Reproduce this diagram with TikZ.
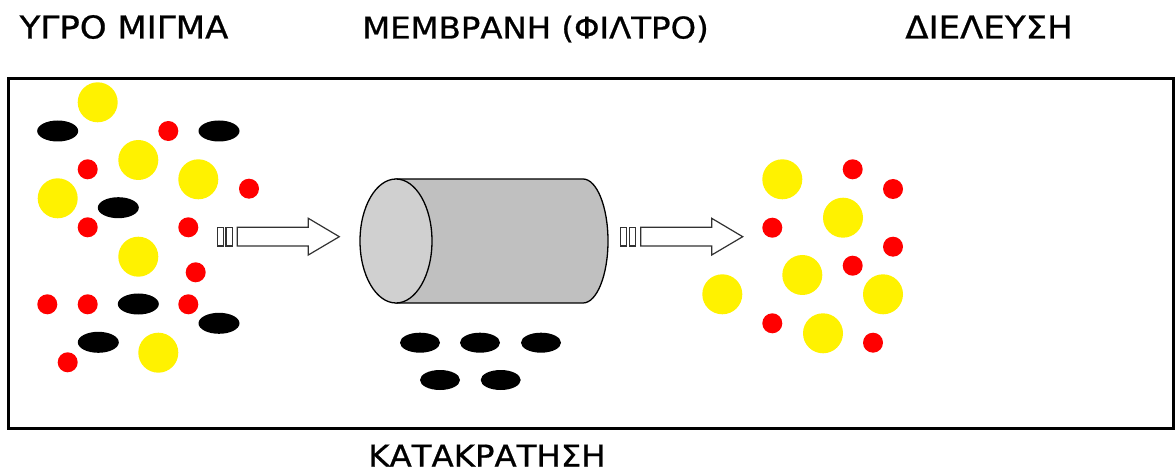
\documentclass[tikz,border=0pt]{standalone}
\usepackage{fontspec}
\setmainfont{DejaVu Sans}[FakeStretch=1.08,FakeBold=0.8]
\definecolor{bodygray}{RGB}{192,192,192}
\definecolor{facegray}{RGB}{208,208,208}
\definecolor{edgegray}{RGB}{50,50,50}
\begin{document}
\begin{tikzpicture}[x=1pt,y=-1pt,
  lbl/.style={inner sep=0pt,anchor=base,font=\fontsize{31.5}{36}\selectfont},
  smalllbl/.style={lbl,font=\fontsize{30}{34}\selectfont},
  bigdot/.style={fill=yellow},
  smalldot/.style={fill=red},
  grain/.style={fill=black},
  blockarrow/.style={draw=edgegray,line width=1.2pt,fill=white,line join=miter},
  frame/.style={draw=black,line width=3pt}]
\useasboundingbox (0,0) rectangle (1176,473);

% outer frame
\draw[frame] (8,79) rectangle (1173,428);

% labels
\node[lbl]      (mix)  at (124,38.5)   {ΥΓΡΟ ΜΙΓΜΑ};
\node[smalllbl] (memb) at (535.5,38.5) {ΜΕΜΒΡΑΝΗ (ΦΙΛΤΡΟ)};
\node[lbl]      (perm) at (989,38.5)   {ΔΙΕΛΕΥΣΗ};
\node[smalllbl] (ret)  at (487,466.5)  {ΚΑΤΑΚΡΑΤΗΣΗ};

% liquid mixture: large (yellow), small (red) and black particles
\foreach \x/\y in {97.7/102.3,138.3/160,198.3/179.3,57.7/198.3,138.3/256.7,158.3/352.7}
  \fill[bigdot] (\x,\y) circle (20);
\foreach \x/\y in {57.7/131,219/131,118.3/207.7,138.3/304,219/323.3,98.3/342.3}
  \fill[grain] (\x,\y) ellipse [x radius=20.5, y radius=10.5];
\foreach \x/\y in {168.3/131,87.7/169.3,249/188.7,87.7/227.3,188.3/227.3,195.7/272.3,
                   47.3/304.3,87.7/304.3,188.3/304.3,67.7/362.3}
  \fill[smalldot] (\x,\y) circle (10);

% permeate
\foreach \x/\y in {782.3/179.3,843/217.7,802.3/275,722.3/294.3,883/294.3,823/333.3}
  \fill[bigdot] (\x,\y) circle (20);
\foreach \x/\y in {852.7/169.3,893/189,772.3/227.7,893/246.7,852.7/265.7,772.3/323.3,873/342.7}
  \fill[smalldot] (\x,\y) circle (10);

% retained particles
\foreach \x/\y in {420/342.7,480/342.7,541/342.7,440/380,500.7/380}
  \fill[grain] (\x,\y) ellipse [x radius=20, y radius=10];

% membrane cylinder
\draw[line width=1.3pt,fill=bodygray]
  (396,179) -- (583,179)
  .. controls (596.8,179) and (608,206.8) .. (608,241)
  .. controls (608,275.2) and (596.8,303) .. (583,303)
  -- (396,303) -- cycle;
\draw[line width=1.3pt,fill=facegray] (396,241) ellipse [x radius=36, y radius=62];

% flow arrows
\foreach \dx in {0,403.4} {
  \begin{scope}[shift={(\dx,0)}]
    \draw[blockarrow] (217.3,227.3) rectangle (223.3,246);
    \draw[blockarrow] (226,227.3) rectangle (232.3,246);
    \draw[blockarrow] (237.3,227.3) -- (308.3,227.3) -- (308.3,218.3)
      -- (339.3,236.7) -- (308.3,255) -- (308.3,246) -- (237.3,246) -- cycle;
  \end{scope}
}
\end{tikzpicture}
\end{document}
